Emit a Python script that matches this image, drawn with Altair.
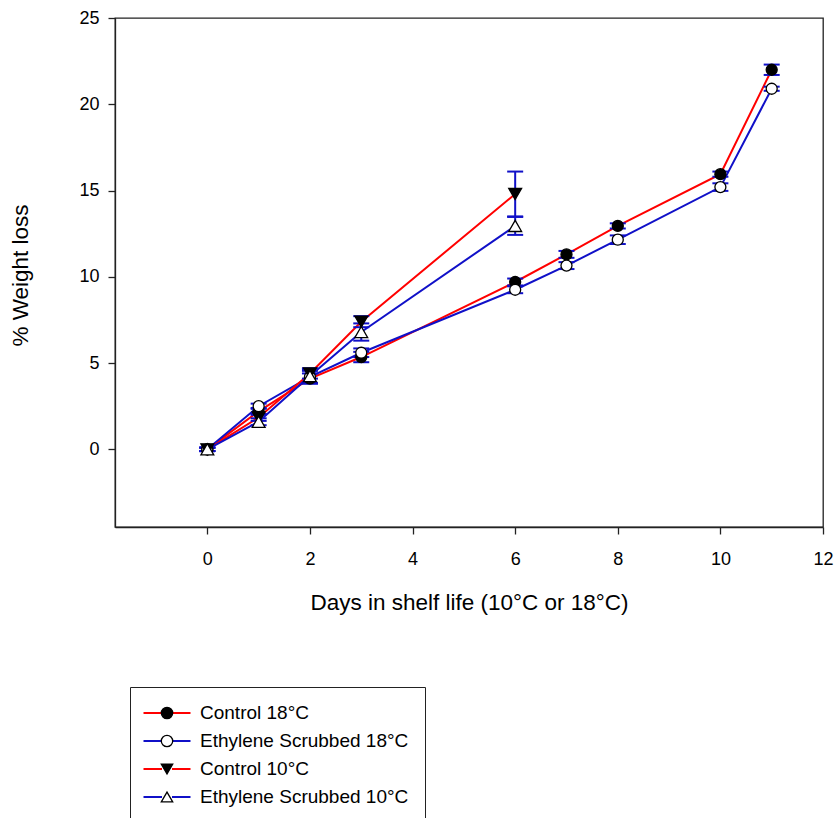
import altair as alt
import pandas as pd

# ---- data ----
days_18 = [0, 1, 2, 3, 6, 7, 8, 10, 11]
days_10 = [0, 1, 2, 3, 6]

control_18 = [0.0, 2.2, 4.1, 5.35, 9.7, 11.3, 12.95, 15.95, 22.0]
control_18_err = [0.1, 0.2, 0.3, 0.3, 0.2, 0.2, 0.15, 0.15, 0.3]
scrubbed_18 = [0.0, 2.5, 4.2, 5.6, 9.25, 10.65, 12.15, 15.2, 20.9]
scrubbed_18_err = [0.1, 0.15, 0.35, 0.25, 0.2, 0.2, 0.25, 0.22, 0.12]
control_10 = [0.0, 1.85, 4.4, 7.4, 14.8]
control_10_err = [0.1, 0.2, 0.3, 0.32, 1.3]
scrubbed_10 = [0.0, 1.6, 4.25, 6.8, 12.95]
scrubbed_10_err = [0.1, 0.2, 0.4, 0.5, 0.52]

series_names = ["Control 18°C", "Ethylene Scrubbed 18°C", "Control 10°C", "Ethylene Scrubbed 10°C"]
series_keys = ["c18", "es18", "c10", "es10"]
line_colors = ["#ff0000", "#1010c8", "#ff0000", "#1010c8"]
marker_shapes = ["circle", "circle", "triangle-down", "triangle-up"]
marker_fills = ["black", "white", "black", "white"]
marker_strokes = ["black", "black", "black", "black"]
circle_keys = ["c18", "es18"]
triangle_keys = ["c10", "es10"]

x_ticks = [0, 2, 4, 6, 8, 10, 12]
y_ticks = [0, 5, 10, 15, 20, 25]

BLUE = "#1010c8"
FONT = "Liberation Sans"

rows = []
for name, key, days, vals, errs in zip(
    series_names,
    series_keys,
    [days_18, days_18, days_10, days_10],
    [control_18, scrubbed_18, control_10, scrubbed_10],
    [control_18_err, scrubbed_18_err, control_10_err, scrubbed_10_err],
):
    for d, v, e in zip(days, vals, errs):
        rows.append({"series": name, "key": key, "day": d, "loss": v, "lo": v - e, "hi": v + e})
df = pd.DataFrame(rows)

x_scale = alt.Scale(domain=[-1.8, 12], nice=False, zero=False)
y_scale = alt.Scale(domain=[-4.5, 25], nice=False, zero=False)

x_axis = alt.Axis(
    values=x_ticks,
    title="Days in shelf life (10°C or 18°C)",
    labelPadding=16,
    labelFlush=False,
    titleX=354,
    titleY=82,
    titleBaseline="alphabetic",
    titleAlign="center",
)
y_axis = alt.Axis(
    values=y_ticks,
    title="% Weight loss",
    labelPadding=9,
    titleX=-88,
    titleY=257,
    titleAngle=270,
    titleBaseline="alphabetic",
    titleAlign="center",
)

X = alt.X("day:Q", scale=x_scale, axis=x_axis)
Y = alt.Y("loss:Q", scale=y_scale, axis=y_axis)
Y_LO = alt.Y("lo:Q", scale=y_scale, axis=y_axis)
Y_HI = alt.Y("hi:Q", scale=y_scale, axis=y_axis)

common_legend = dict(
    orient="none",
    legendX=15,
    legendY=669,
    direction="vertical",
    title=None,
    padding=16.5,
    labelFont=FONT,
    labelFontSize=19,
    labelOffset=23.5,
    labelLimit=400,
    symbolOffset=11,
    rowPadding=8,
)

# line part of each legend key, with a gap where the marker sits
line_legend = alt.Legend(
    **common_legend,
    strokeColor="#222222",
    labelColor="black",
    symbolType="M-4,0H-0.85M0.85,0H4",
    symbolSize=138,
    symbolStrokeWidth=2,
)

# marker part of each legend key (drawn over the line part, no text of its own)
marker_legend = alt.Legend(
    **common_legend,
    labelExpr="''",
    symbolSize=130,
    symbolStrokeWidth=1.3,
)

base = alt.Chart(df)

lines = base.mark_line(strokeWidth=2).encode(
    x=X,
    y=Y,
    color=alt.Color("series:N", scale=alt.Scale(domain=series_names, range=line_colors), legend=line_legend),
)

rules = base.mark_rule(color=BLUE, strokeWidth=2).encode(x=X, y=Y_LO, y2="hi:Q")

caps_lo = base.mark_tick(orient="horizontal", color=BLUE, thickness=2, size=16, opacity=1).encode(x=X, y=Y_LO)
caps_hi = base.mark_tick(orient="horizontal", color=BLUE, thickness=2, size=16, opacity=1).encode(x=X, y=Y_HI)

shape_enc = alt.Shape("key:N", scale=alt.Scale(domain=series_keys, range=marker_shapes), legend=marker_legend)
fill_enc = alt.Fill("key:N", scale=alt.Scale(domain=series_keys, range=marker_fills), legend=marker_legend)
stroke_enc = alt.Stroke("key:N", scale=alt.Scale(domain=series_keys, range=marker_strokes), legend=marker_legend)

circles = (
    base.transform_filter(alt.FieldOneOfPredicate(field="key", oneOf=circle_keys))
    .mark_point(filled=True, opacity=1, fillOpacity=1, strokeOpacity=1, strokeWidth=1.3, size=121)
    .encode(x=X, y=Y, shape=shape_enc, fill=fill_enc, stroke=stroke_enc)
)
triangles = (
    base.transform_filter(alt.FieldOneOfPredicate(field="key", oneOf=triangle_keys))
    .mark_point(filled=True, opacity=1, fillOpacity=1, strokeOpacity=1, strokeWidth=1.3, size=165)
    .encode(x=X, y=Y, shape=shape_enc, fill=fill_enc, stroke=stroke_enc)
)

chart = (
    alt.layer(lines, rules, caps_lo, caps_hi, circles, triangles)
    .properties(
        width=708,
        height=509,
        padding={"left": 115, "top": 18, "right": 13, "bottom": 291},
        autosize=alt.AutoSizeParams(type="none"),
        background="white",
    )
    .configure_view(stroke="#222222", strokeWidth=1.3)
    .configure_axis(
        grid=False,
        labelFont=FONT,
        labelFontSize=18,
        labelColor="black",
        titleFont=FONT,
        titleFontSize=22.5,
        titleFontWeight="normal",
        titleColor="black",
        domainColor="#222222",
        domainWidth=1.3,
        tickColor="#222222",
        tickWidth=1.3,
        tickSize=7,
    )
)

chart.save("out.html", embed_options={"renderer": "svg", "actions": False})
